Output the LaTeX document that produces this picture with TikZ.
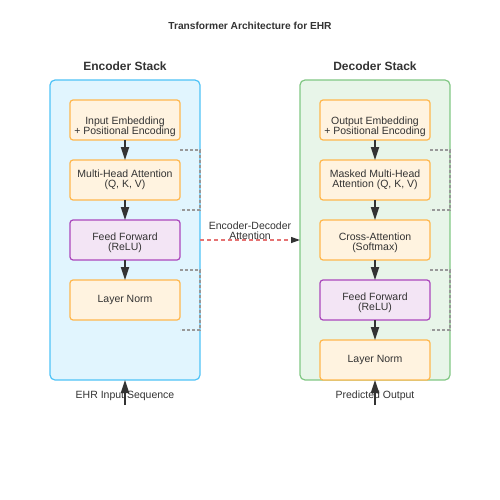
\documentclass[tikz,border=0pt]{standalone}
\usepackage{fontspec}
\setmainfont{Liberation Sans}
\usetikzlibrary{arrows.meta,positioning}
\definecolor{ink}{HTML}{333333}
\definecolor{encfill}{HTML}{E1F5FE}
\definecolor{encline}{HTML}{4FC3F7}
\definecolor{decfill}{HTML}{E8F5E9}
\definecolor{decline}{HTML}{81C784}
\definecolor{orfill}{HTML}{FFF3E0}
\definecolor{orline}{HTML}{FFB74D}
\definecolor{pufill}{HTML}{F3E5F5}
\definecolor{puline}{HTML}{AB47BC}
\definecolor{resgray}{HTML}{999999}
\definecolor{xred}{HTML}{E57373}
\tikzset{
 stackbox/.style={draw, rounded corners=5pt, line width=1.2pt, minimum width=150pt, minimum height=300pt, inner sep=0pt, outer sep=0pt},
 layer/.style={draw=orline, fill=orfill, rounded corners=3pt, line width=1.2pt, minimum width=110pt, minimum height=40pt, inner sep=0pt, outer sep=0pt, align=center, text=ink, font=\fontsize{10.5}{10}\selectfont},
 ffn/.style={layer, draw=puline, fill=pufill},
 textlow/.style={text height=#1},
 heading/.style={text=ink, inner sep=0pt, font=\bfseries\fontsize{12}{14}\selectfont},
 lbl/.style={text=ink, inner sep=0pt, align=center, font=\fontsize{10.5}{10}\selectfont},
 flow/.style={draw=ink, line width=1.8pt, -{Triangle[length=13pt,width=8pt]}},
 residual/.style={draw=resgray, line width=1.2pt, dash pattern=on 3pt off 2pt},
 crossatt/.style={draw=xred, line width=1.2pt, dash pattern=on 4pt off 3pt, -{Triangle[length=9pt,width=6pt,color=ink]}}
}
\begin{document}
\begin{tikzpicture}[x=1pt, y=-1pt, node distance=20pt]
\useasboundingbox (0,0) rectangle (500,500);
\node[heading, font=\bfseries\fontsize{10.2}{12}\selectfont] (title) at (250,26) {Transformer Architecture for EHR};
\node[stackbox, draw=encline, fill=encfill] (enc) at (125,230) {};
\node[stackbox, draw=decline, fill=decfill] (dec) at (375,230) {};
\node[heading] (enctitle) at (125,66) {Encoder Stack};
\node[heading] (dectitle) at (375,66) {Decoder Stack};

\node[layer, textlow=31.5pt] (emb) at (125,120) {Input Embedding\\+ Positional Encoding};
\node[layer, below=of emb] (mha) {Multi-Head Attention\\(Q, K, V)};
\node[ffn, textlow=23.5pt, below=of mha] (ff) {Feed Forward\\(ReLU)};
\node[layer, below=of ff] (ln) {Layer Norm};

\node[layer, textlow=31.5pt] (demb) at (375,120) {Output Embedding\\+ Positional Encoding};
\node[layer, below=of demb] (mmha) {Masked Multi-Head\\Attention (Q, K, V)};
\node[layer, textlow=23.5pt, below=of mmha] (cross) {Cross-Attention\\(Softmax)};
\node[ffn, textlow=23.5pt, below=of cross] (dff) {Feed Forward\\(ReLU)};
\node[layer, below=of dff] (dln) {Layer Norm};

\foreach \a/\b in {emb/mha, mha/ff, ff/ln, demb/mmha, mmha/cross, cross/dff, dff/dln}
 \draw[flow] (\a) -- (\b);

\foreach \x in {180,430} \foreach \y in {150,270}
 \draw[residual] (\x,\y) -- ++(20,0) -- ++(0,60) -- ++(-20,0);

\draw[crossatt] (ff -| enc.east) -- (ff -| dec.west);
\node[lbl] (xlbl) at (250,231) {Encoder-Decoder\\Attention};

\coordinate (encin) at (125,405);
\coordinate (decout) at (375,405);
\draw[flow] (encin) -- (enc.south);
\draw[flow] (decout) -- (dln.south);
\node[lbl] (inlbl) at (125,396) {EHR Input Sequence};
\node[lbl] (outlbl) at (375,396) {Predicted Output};
\end{tikzpicture}
\end{document}
